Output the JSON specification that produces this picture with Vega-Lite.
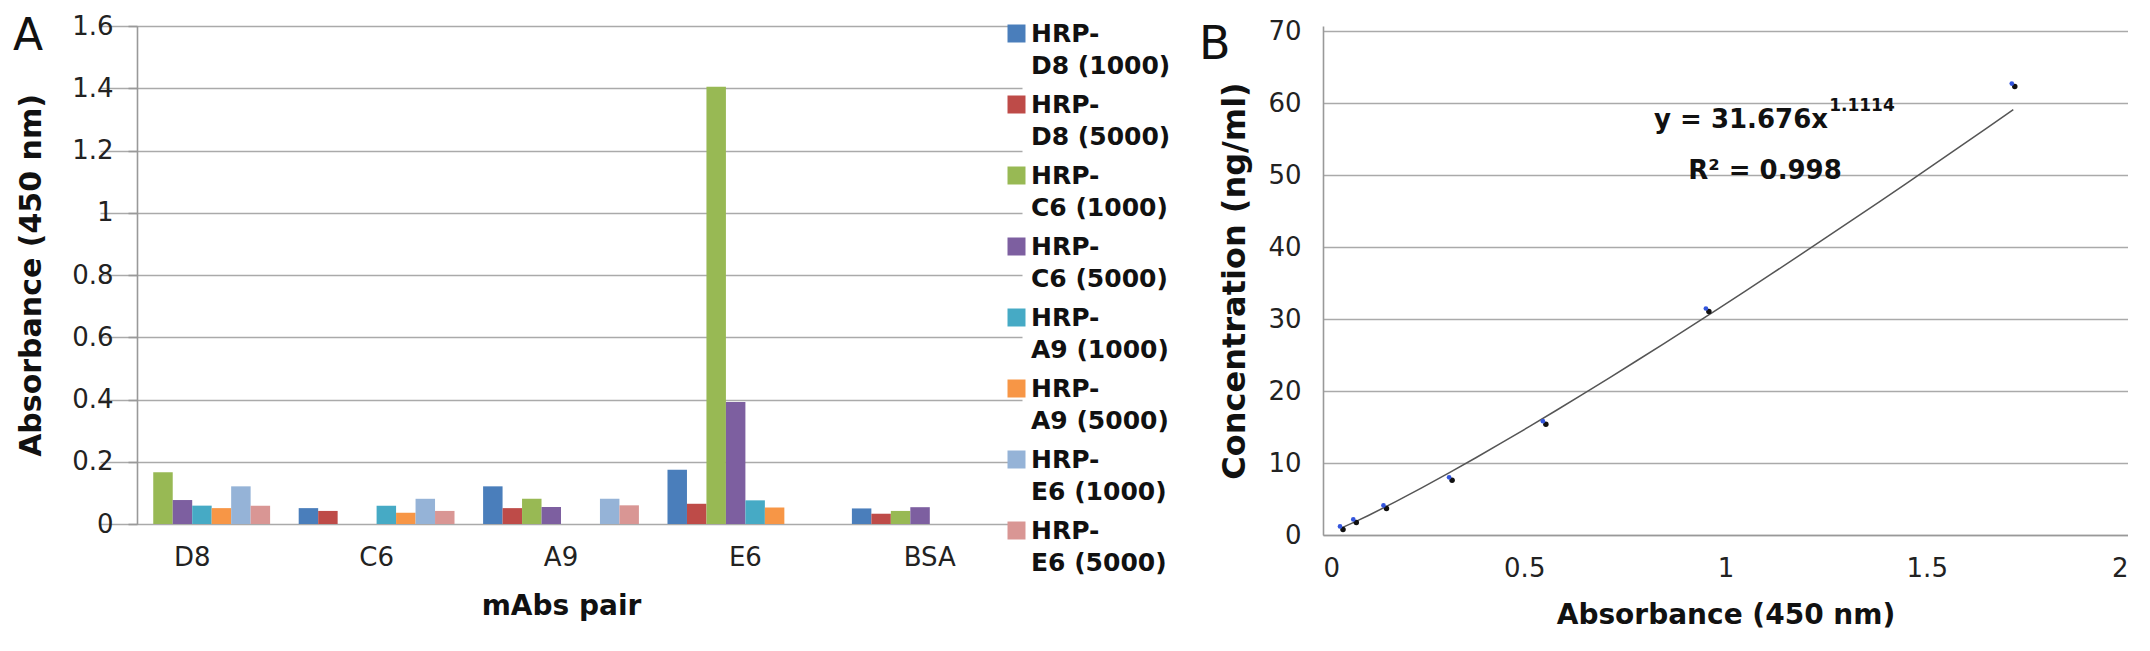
{
  "$schema": "https://vega.github.io/schema/vega-lite/v6.json",
  "padding": {"left": 13, "top": 13, "right": 0, "bottom": 0},
  "background": "white",
  "spacing": 28,
  "resolve": {"legend": {"color": "independent"}, "scale": {"color": "independent"}},
  "config": {
    "view": {"stroke": null},
    "font": "DejaVu Sans",
    "style": {"guide-label": {"lineHeight": 32}},
    "axis": {"labelFont": "DejaVu Sans", "labelFontSize": 26, "labelColor": "#222", "titleFont": "DejaVu Sans", "titleFontSize": 28, "titleFontWeight": "bold", "titleColor": "#111", "gridColor": "#aaaaaa", "gridWidth": 1.6, "domainColor": "#999999", "domainWidth": 1.6, "tickColor": "#999999", "tickWidth": 1.6}
  },
  "datasets": {
    "bars": [
      {"pair": "D8", "series": "HRP-C6 (1000)", "value": 0.166},
      {"pair": "D8", "series": "HRP-C6 (5000)", "value": 0.077},
      {"pair": "D8", "series": "HRP-A9 (1000)", "value": 0.059},
      {"pair": "D8", "series": "HRP-A9 (5000)", "value": 0.051},
      {"pair": "D8", "series": "HRP-E6 (1000)", "value": 0.121},
      {"pair": "D8", "series": "HRP-E6 (5000)", "value": 0.059},
      {"pair": "C6", "series": "HRP-D8 (1000)", "value": 0.051},
      {"pair": "C6", "series": "HRP-D8 (5000)", "value": 0.042},
      {"pair": "C6", "series": "HRP-A9 (1000)", "value": 0.059},
      {"pair": "C6", "series": "HRP-A9 (5000)", "value": 0.036},
      {"pair": "C6", "series": "HRP-E6 (1000)", "value": 0.081},
      {"pair": "C6", "series": "HRP-E6 (5000)", "value": 0.042},
      {"pair": "A9", "series": "HRP-D8 (1000)", "value": 0.121},
      {"pair": "A9", "series": "HRP-D8 (5000)", "value": 0.051},
      {"pair": "A9", "series": "HRP-C6 (1000)", "value": 0.081},
      {"pair": "A9", "series": "HRP-C6 (5000)", "value": 0.055},
      {"pair": "A9", "series": "HRP-E6 (1000)", "value": 0.081},
      {"pair": "A9", "series": "HRP-E6 (5000)", "value": 0.060},
      {"pair": "E6", "series": "HRP-D8 (1000)", "value": 0.174},
      {"pair": "E6", "series": "HRP-D8 (5000)", "value": 0.065},
      {"pair": "E6", "series": "HRP-C6 (1000)", "value": 1.405},
      {"pair": "E6", "series": "HRP-C6 (5000)", "value": 0.392},
      {"pair": "E6", "series": "HRP-A9 (1000)", "value": 0.076},
      {"pair": "E6", "series": "HRP-A9 (5000)", "value": 0.053},
      {"pair": "BSA", "series": "HRP-D8 (1000)", "value": 0.050},
      {"pair": "BSA", "series": "HRP-D8 (5000)", "value": 0.033},
      {"pair": "BSA", "series": "HRP-C6 (1000)", "value": 0.042},
      {"pair": "BSA", "series": "HRP-C6 (5000)", "value": 0.054}
    ],
    "curve": [
      {"abs": 0.046, "conc": 0.98},
      {"abs": 0.079, "conc": 1.95},
      {"abs": 0.154, "conc": 3.9},
      {"abs": 0.317, "conc": 7.8},
      {"abs": 0.55, "conc": 15.6},
      {"abs": 0.955, "conc": 31.25},
      {"abs": 1.715, "conc": 62.5}
    ],
    "notes": [
      {"label": "y = 31.676x", "x": 0.8225, "y": 57.7, "kind": "main"},
      {"label": "1.1114", "x": 1.2575, "y": 59.6, "kind": "sup"},
      {"label": "R² = 0.998", "x": 0.9075, "y": 50.6, "kind": "main"}
    ]
  },
  "hconcat": [
    {
      "width": 848,
      "height": 498,
      "title": {"text": "A", "anchor": "start", "orient": "top", "frame": "group", "offset": 0, "font": "DejaVu Sans", "fontSize": 44, "fontWeight": "normal", "color": "#111", "dx": -124, "dy": 46},
      "data": {"name": "bars"},
      "mark": {"type": "bar"},
      "encoding": {
        "x": {"field": "pair", "type": "nominal", "sort": ["D8", "C6", "A9", "E6", "BSA"],
          "scale": {"range": [-37, 885], "paddingInner": 0.155, "paddingOuter": 0.0775},
          "axis": {"title": "mAbs pair", "labelAngle": 0, "domain": false, "ticks": false, "labelPadding": 20, "titlePadding": 22}},
        "xOffset": {"field": "series", "type": "nominal",
          "sort": ["HRP-D8 (1000)", "HRP-D8 (5000)", "HRP-C6 (1000)", "HRP-C6 (5000)", "HRP-A9 (1000)", "HRP-A9 (5000)", "HRP-E6 (1000)", "HRP-E6 (5000)"],
          "scale": {"paddingInner": 0, "paddingOuter": 0}},
        "y": {"field": "value", "type": "quantitative",
          "scale": {"domain": [0, 1.6]},
          "axis": {"title": "Absorbance (450 nm)", "titleFontSize": 30, "values": [0, 0.2, 0.4, 0.6, 0.8, 1, 1.2, 1.4, 1.6], "format": "~g", "tickSize": 9, "labelPadding": 15, "titlePadding": 25}},
        "color": {"field": "series", "type": "nominal",
          "scale": {"domain": ["HRP-D8 (1000)", "HRP-D8 (5000)", "HRP-C6 (1000)", "HRP-C6 (5000)", "HRP-A9 (1000)", "HRP-A9 (5000)", "HRP-E6 (1000)", "HRP-E6 (5000)"],
            "range": ["#4a7ebb", "#be4b48", "#98b954", "#7d5fa0", "#46aac5", "#f79646", "#95b3d7", "#d99694"]},
          "legend": {"title": null, "orient": "none", "legendX": 867, "legendY": -5, "padding": 0, "symbolType": "square", "symbolSize": 324, "symbolStrokeWidth": 0, "labelFont": "DejaVu Sans", "labelFontWeight": "bold", "labelFontSize": 25, "labelColor": "#111", "labelLimit": 300, "labelOffset": 2, "labelBaseline": "middle", "rowPadding": 13,
            "labelExpr": "['\u00a0HRP-', replace(datum.label, 'HRP-', '')]"}}
      }
    },
    {
      "width": 805,
      "height": 509,
      "title": {"text": "B", "anchor": "start", "orient": "top", "frame": "group", "offset": 0, "font": "DejaVu Sans", "fontSize": 46, "fontWeight": "normal", "color": "#111", "dx": -124, "dy": 51},
      "layer": [
        {
          "data": {"name": "curve"},
          "transform": [{"regression": "conc", "on": "abs", "method": "pow"}],
          "mark": {"type": "line", "color": "#555555", "strokeWidth": 1.5},
          "encoding": {
            "x": {"field": "abs", "type": "quantitative", "scale": {"domain": [0, 2]},
              "axis": {"title": "Absorbance (450 nm)", "values": [0, 0.5, 1, 1.5, 2], "format": "~g", "grid": false, "ticks": false, "labelPadding": 20, "titlePadding": 20}},
            "y": {"field": "conc", "type": "quantitative", "scale": {"domain": [0, 70.7], "nice": false},
              "axis": {"title": "Concentration (ng/ml)", "titleFontSize": 32, "values": [0, 10, 20, 30, 40, 50, 60, 70], "ticks": false, "labelPadding": 22, "titlePadding": 16}}
          }
        },
        {
          "data": {"name": "curve"},
          "mark": {"type": "point", "filled": true, "shape": "circle", "size": 30, "color": "#111111", "xOffset": 1.5, "yOffset": 1.5, "opacity": 1},
          "encoding": {
            "x": {"field": "abs", "type": "quantitative"},
            "y": {"field": "conc", "type": "quantitative"}
          }
        },
        {
          "data": {"name": "curve"},
          "mark": {"type": "point", "filled": true, "shape": "circle", "size": 22, "color": "#3355dd", "xOffset": -1.5, "yOffset": -1.5, "opacity": 1},
          "encoding": {
            "x": {"field": "abs", "type": "quantitative"},
            "y": {"field": "conc", "type": "quantitative"}
          }
        },
        {
          "data": {"name": "notes"},
          "transform": [{"filter": "datum.kind == 'main'"}],
          "mark": {"type": "text", "align": "left", "baseline": "middle", "font": "DejaVu Sans", "fontWeight": "bold", "fontSize": 26, "color": "#111"},
          "encoding": {
            "x": {"field": "x", "type": "quantitative"},
            "y": {"field": "y", "type": "quantitative"},
            "text": {"field": "label"}
          }
        },
        {
          "data": {"name": "notes"},
          "transform": [{"filter": "datum.kind == 'sup'"}],
          "mark": {"type": "text", "align": "left", "baseline": "middle", "font": "DejaVu Sans", "fontWeight": "bold", "fontSize": 17, "color": "#111"},
          "encoding": {
            "x": {"field": "x", "type": "quantitative"},
            "y": {"field": "y", "type": "quantitative"},
            "text": {"field": "label"}
          }
        }
      ]
    }
  ]
}
